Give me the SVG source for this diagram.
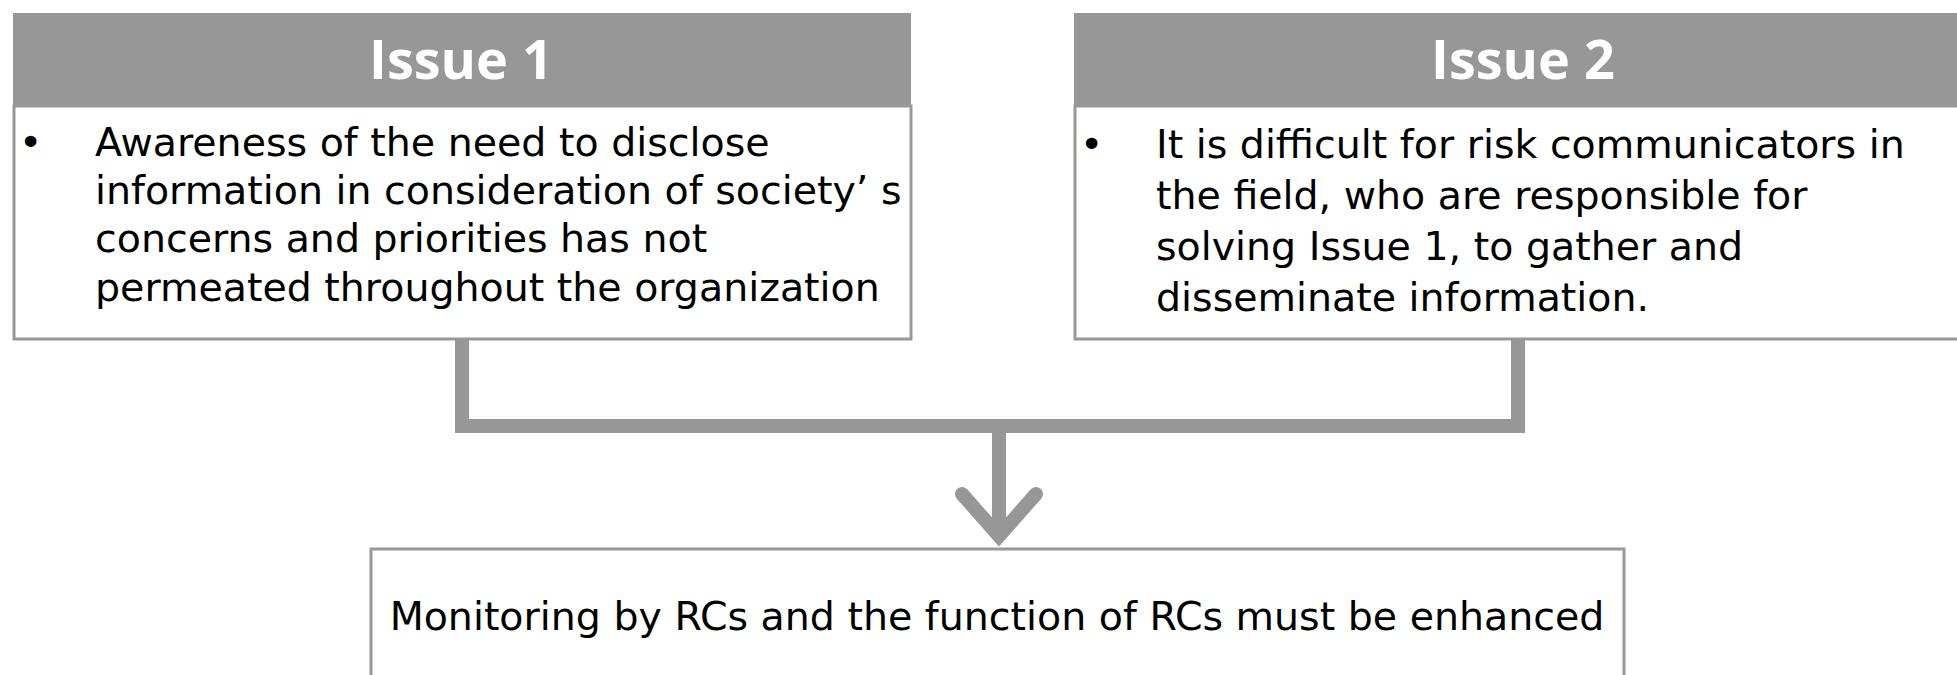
<svg xmlns="http://www.w3.org/2000/svg" width="1957" height="675" viewBox="0 0 1957 675">
<style>
.hdr{fill:#979797}
.body{fill:#ffffff;stroke:#989898;stroke-width:3}
.htxt{font-family:"Open Sans","Liberation Sans",sans-serif;font-weight:bold;font-size:54px;fill:#ffffff;text-anchor:middle}
.btxt{font-family:"DejaVu Sans","Liberation Sans",sans-serif;font-size:39.5px;fill:#000000}
.conn{fill:none;stroke:#979797;stroke-width:14}
</style>
<rect width="1957" height="675" fill="#ffffff"/>
<g id="issue1">
  <rect class="hdr" x="13" y="13" width="898" height="93"/>
  <text class="htxt" x="461" y="79">Issue 1</text>
  <rect class="body" x="14" y="106" width="897" height="233"/>
  <text class="btxt" x="19" y="156">•</text>
  <text class="btxt" x="95" y="156">Awareness of the need to disclose</text>
  <text class="btxt" x="95" y="204">information in consideration of society’ s</text>
  <text class="btxt" x="95" y="252">concerns and priorities has not</text>
  <text class="btxt" x="95" y="301">permeated throughout the organization</text>
</g>
<g id="issue2">
  <rect class="hdr" x="1074" y="13" width="900" height="93"/>
  <text class="htxt" x="1523" y="79">Issue 2</text>
  <rect class="body" x="1075" y="106" width="900" height="233"/>
  <text class="btxt" x="1080" y="158">•</text>
  <text class="btxt" x="1156" y="158">It is difficult for risk communicators in</text>
  <text class="btxt" x="1156" y="209">the field, who are responsible for</text>
  <text class="btxt" x="1156" y="260">solving Issue 1, to gather and</text>
  <text class="btxt" x="1156" y="311">disseminate information.</text>
</g>
<g id="result">
  <rect class="body" x="371" y="549" width="1253" height="140"/>
  <text class="btxt" x="997" y="630" text-anchor="middle">Monitoring by RCs and the function of RCs must be enhanced</text>
</g>
<g id="connectors">
  <polyline class="conn" points="462,340 462,426 1518,426 1518,340" stroke-linejoin="miter"/>
  <line class="conn" x1="999" y1="426" x2="999" y2="534"/>
  <polyline class="conn" points="962,494 999,536 1036,494" stroke-linecap="round" stroke-linejoin="miter"/>
</g>
</svg>
